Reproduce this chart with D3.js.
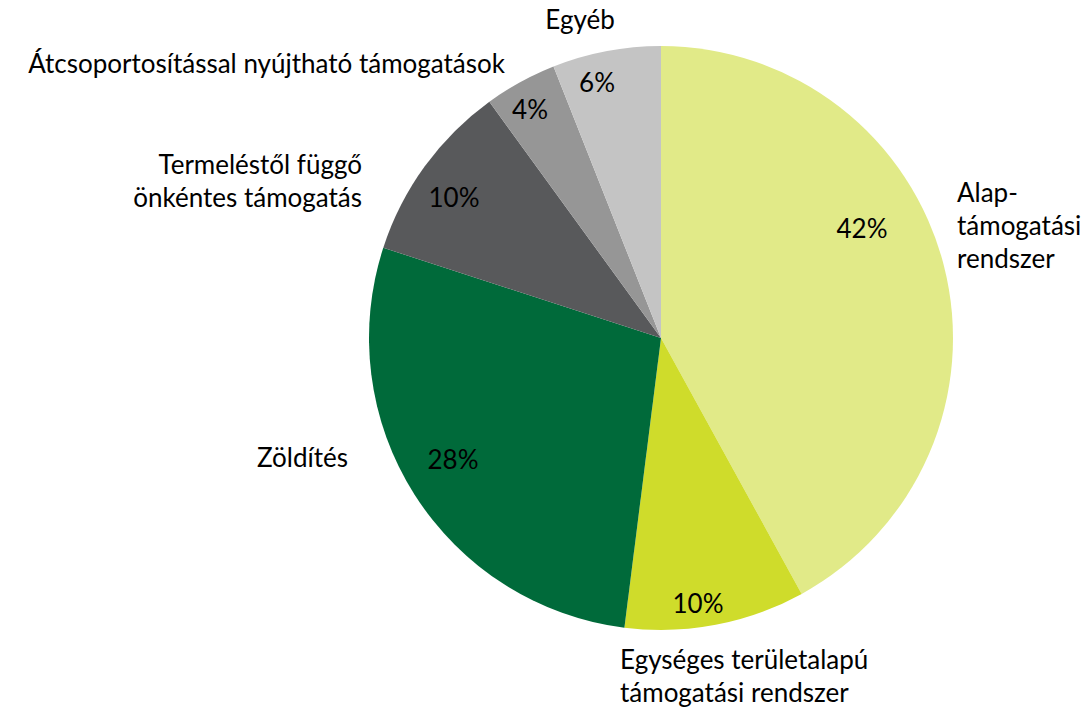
<!DOCTYPE html>
<html>
<head>
<meta charset="utf-8">
<script src="https://cdn.jsdelivr.net/npm/d3@7"></script>
<style>
  body { margin: 0; background: #fff; }
  text { font-family: Lato, "Open Sans", sans-serif; fill: #000; }
</style>
</head>
<body>
<script>
// data
var categories = ['Alap-támogatási rendszer', 'Egységes területalapú támogatási rendszer', 'Zöldítés',
  'Termeléstől függő önkéntes támogatás', 'Átcsoportosítással nyújtható támogatások', 'Egyéb'];
var shares = [42, 10, 28, 10, 4, 6];
var colors = ['#e1ea88', '#cfdc2b', '#006a3a', '#58595b', '#969696', '#c4c4c4'];
// category label lines
var labelLines = [
  ['Alap-', 'támogatási', 'rendszer'],
  ['Egységes területalapú', 'támogatási rendszer'],
  ['Zöldítés'],
  ['Termeléstől függő', 'önkéntes támogatás'],
  ['Átcsoportosítással nyújtható támogatások'],
  ['Egyéb']
];

var w = 1089, h = 708;
var cx = 661, cy = 338, R = 292;

var svg = d3.select('body').append('svg').attr('width', w).attr('height', h);
var g = svg.append('g').attr('transform', 'translate(' + cx + ',' + cy + ')');

var pie = d3.pie().sort(null).value(function(d){ return d; });
var arc = d3.arc().innerRadius(0).outerRadius(R);
var arcs = pie(shares);

g.selectAll('path')
  .data(arcs)
  .enter()
  .append('path')
  .attr('d', arc)
  .attr('fill', function(d, i){ return colors[i]; });

// percent labels, Excel "best fit" style: offsets from the centre
var pctAt = [[201, -109], [37, 266], [-208, 122], [-207, -140], [-131, -228], [-64, -255]];
g.selectAll('text.pct')
  .data(arcs)
  .enter()
  .append('text')
  .attr('class', 'pct')
  .attr('x', function(d, i){ return pctAt[i][0]; })
  .attr('y', function(d, i){ return pctAt[i][1]; })
  .attr('dy', '0.35em')
  .attr('text-anchor', 'middle')
  .style('font-size', '26px')
  .text(function(d){ return d3.format('.0f')(d.data) + '%'; });

// category labels: anchor point (first line middle), alignment
var catAt = [
  [296, -145, 'start'],
  [-41, 322, 'start'],
  [-313, 120, 'end'],
  [-299, -173, 'end'],
  [-156, -274, 'end'],
  [-81, -318, 'middle']
];
var lineH = 33;
categories.forEach(function(c, i){
  var t = g.append('text')
    .attr('text-anchor', catAt[i][2])
    .style('font-size', '26px');
  labelLines[i].forEach(function(line, j){
    t.append('tspan')
      .attr('x', catAt[i][0])
      .attr('y', catAt[i][1] + j * lineH)
      .attr('dy', '0.35em')
      .text(line);
  });
});
</script>
</body>
</html>
